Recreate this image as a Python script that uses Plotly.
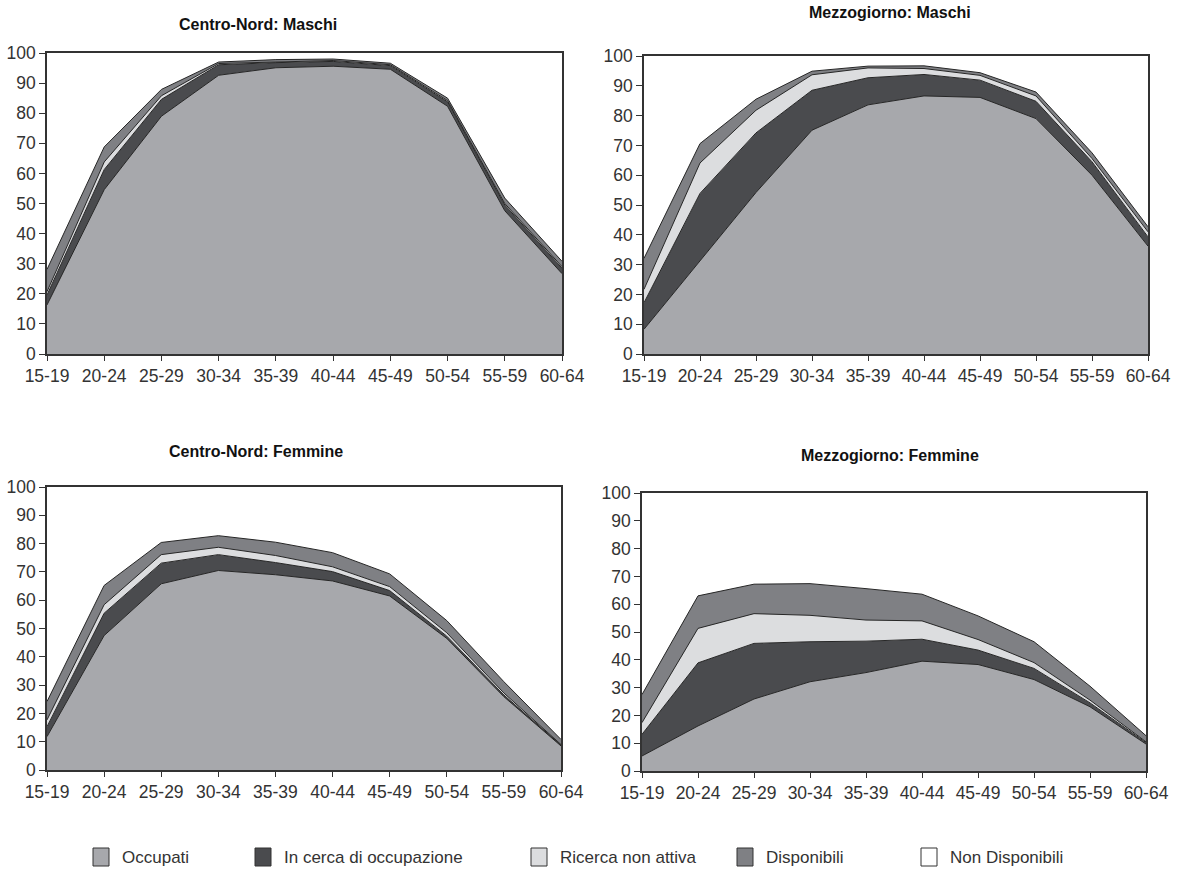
import plotly.graph_objects as go

# Age classes shared by all four panels
age_classes = ["15-19", "20-24", "25-29", "30-34", "35-39",
               "40-44", "45-49", "50-54", "55-59", "60-64"]

# Shares (%) of population by labour-market condition, one list per layer
cn_m_occupati = [16.3, 54.6, 79.0, 92.6, 95.1, 95.6, 94.6, 82.3, 47.6, 26.7]
cn_m_cerca = [3.3, 6.7, 5.6, 3.5, 1.7, 1.6, 1.2, 1.5, 1.9, 1.8]
cn_m_ricerca = [1.1, 2.5, 1.2, 0.4, 0.2, 0.3, 0.3, 0.4, 0.5, 0.5]
cn_m_disponibili = [7.4, 5.0, 2.1, 0.5, 0.8, 0.5, 0.5, 0.8, 1.8, 1.8]

mz_m_occupati = [8.3, 31.3, 54.2, 75.1, 83.6, 86.6, 86.1, 79.0, 60.0, 36.2]
mz_m_cerca = [8.9, 22.6, 20.0, 13.4, 9.1, 7.2, 5.8, 5.8, 4.5, 3.1]
mz_m_ricerca = [4.5, 10.2, 7.6, 5.2, 3.3, 2.0, 1.6, 1.8, 1.1, 1.7]
mz_m_disponibili = [10.4, 6.5, 3.7, 1.2, 0.6, 0.9, 0.9, 1.3, 1.9, 1.7]

cn_f_occupati = [11.8, 47.5, 65.8, 70.5, 69.0, 66.8, 61.5, 46.5, 25.9, 8.5]
cn_f_cerca = [3.5, 7.9, 7.3, 5.6, 4.3, 3.3, 1.9, 0.8, 0.6, 0.3]
cn_f_ricerca = [2.4, 3.0, 3.0, 2.6, 2.5, 1.7, 1.4, 1.2, 0.7, 0.2]
cn_f_disponibili = [6.5, 6.8, 4.3, 4.1, 4.7, 5.0, 4.5, 4.3, 4.0, 1.8]

mz_f_occupati = [5.4, 16.2, 25.9, 32.1, 35.4, 39.5, 38.3, 32.9, 23.1, 9.7]
mz_f_cerca = [7.8, 22.7, 20.0, 14.4, 11.3, 7.9, 5.2, 4.0, 1.4, 0.5]
mz_f_ricerca = [4.2, 12.4, 10.7, 9.5, 7.6, 6.6, 3.8, 2.1, 1.0, 0.3]
mz_f_disponibili = [10.1, 11.7, 10.6, 11.4, 11.3, 9.6, 8.5, 7.5, 5.0, 2.2]

layer_names = ["Occupati", "In cerca di occupazione", "Ricerca non attiva",
               "Disponibili", "Non Disponibili"]
layer_colors = ["#a7a8ac", "#4a4b4e", "#dcdddf", "#7f8084", "#ffffff"]

panel_titles = ["Centro-Nord: Maschi", "Mezzogiorno: Maschi",
                "Centro-Nord: Femmine", "Mezzogiorno: Femmine"]
panel_layers = [
    [cn_m_occupati, cn_m_cerca, cn_m_ricerca, cn_m_disponibili],
    [mz_m_occupati, mz_m_cerca, mz_m_ricerca, mz_m_disponibili],
    [cn_f_occupati, cn_f_cerca, cn_f_ricerca, cn_f_disponibili],
    [mz_f_occupati, mz_f_cerca, mz_f_ricerca, mz_f_disponibili],
]

W, H = 1180, 870


def px_x(v):
    return v / W


def px_y(v):
    return 1 - v / H


# Plot-area boxes in pixels: left, right, top, bottom
boxes = [(47, 562, 53, 354), (644, 1148, 56, 354),
         (47, 561, 487, 770), (642, 1146, 493, 771)]
title_pos = [(258, 24), (890, 12), (256, 451), (890, 455)]

FONT = "Liberation Sans, Arial, sans-serif"
TEXT = "#333333"
xs = list(range(len(age_classes)))

fig = go.Figure()
layout = {}
for i, (layers, (l, r, t, b)) in enumerate(zip(panel_layers, boxes)):
    sfx = "" if i == 0 else str(i + 1)
    for name, color, vals in zip(layer_names, layer_colors, layers):
        fig.add_trace(go.Scatter(
            x=xs, y=vals, name=name, stackgroup=f"p{i}", mode="lines",
            line=dict(color="#262626", width=1), fillcolor=color,
            showlegend=False, hoverinfo="skip",
            xaxis="x" + sfx, yaxis="y" + sfx,
        ))
    layout["xaxis" + sfx] = dict(
        domain=[px_x(l), px_x(r)], anchor="y" + sfx, range=[0, 9],
        tickmode="array", tickvals=xs, ticktext=age_classes,
        ticks="outside", ticklen=5, tickcolor=TEXT, showgrid=False,
        zeroline=False, showline=True, mirror=True, linecolor=TEXT,
        linewidth=1.5, automargin=False,
        tickfont=dict(family=FONT, size=17.5, color=TEXT),
    )
    layout["yaxis" + sfx] = dict(
        domain=[px_y(b), px_y(t)], anchor="x" + sfx, range=[0, 100],
        tickmode="linear", tick0=0, dtick=10,
        ticks="outside", ticklen=6, tickcolor=TEXT, showgrid=False,
        zeroline=False, showline=True, mirror=True, linecolor=TEXT,
        linewidth=1.5, automargin=False,
        tickfont=dict(family=FONT, size=17.5, color=TEXT),
    )

annotations = []
for title, (tx, ty) in zip(panel_titles, title_pos):
    annotations.append(dict(
        text=f"<b>{title}</b>", x=px_x(tx), y=px_y(ty), xref="paper",
        yref="paper", showarrow=False, xanchor="center", yanchor="middle",
        font=dict(family=FONT, size=16, color="#111111"),
    ))

# Shared legend drawn as swatches with labels along the bottom
legend_swatch_x = [93, 255, 531, 737, 921]
shapes = []
for name, color, sx in zip(layer_names, layer_colors, legend_swatch_x):
    shapes.append(dict(
        type="rect", xref="paper", yref="paper",
        x0=px_x(sx), x1=px_x(sx + 16), y0=px_y(866), y1=px_y(848),
        fillcolor=color, line=dict(color="#333333", width=1),
    ))
    annotations.append(dict(
        text=name, x=px_x(sx + 27), y=px_y(857), xref="paper",
        yref="paper", showarrow=False, xanchor="left", yanchor="middle",
        font=dict(family=FONT, size=17, color=TEXT),
    ))

fig.update_layout(
    width=W, height=H, margin=dict(l=0, r=0, t=0, b=0),
    paper_bgcolor="white", plot_bgcolor="white", template="none",
    annotations=annotations, shapes=shapes, **layout,
)

fig.write_html("out.html")
